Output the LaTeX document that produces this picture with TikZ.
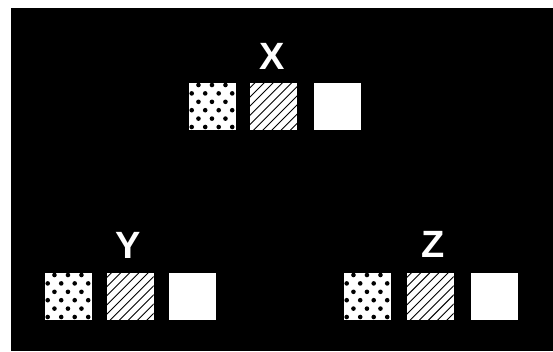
\documentclass[tikz,border=0pt]{standalone}
\usepackage{fontspec}
\setmainfont{Liberation Sans}
\usepackage{tikz}
\usetikzlibrary{positioning,calc}

\begin{document}
\begin{tikzpicture}[
  sq/.style={fill=white,draw=none,minimum width=47pt,minimum height=47pt,inner sep=0pt,outer sep=0pt},
  dotsq/.style={sq,path picture={
    \foreach \r in {0,...,5}
      \foreach \c in {0,...,3}
        \fill[black] ($(path picture bounding box.north west)+({2.7pt+6.75pt*(1-mod(\r,2))+13.5pt*\c},{-2.3pt-8.4pt*\r})$) circle (2.3pt);}},
  hatchsq/.style={sq,path picture={
    \foreach \k in {0,...,10}
      \draw[black,line width=0.9pt] ($(path picture bounding box.north west)+({5pt+9.2pt*\k},0pt)$) -- ++(-60pt,-60pt);}},
  lbl/.style={text=white,inner sep=0pt,font=\fontsize{38}{38}\selectfont\bfseries}]
\useasboundingbox (0,0) rectangle (553pt,-351pt);
\fill[black] (11pt,-8pt) rectangle (553pt,-351pt);
% group X
\node[dotsq,anchor=north west] (xdot) at (189pt,-82.7pt) {};
\node[hatchsq,right=14pt of xdot] (xhatch) {};
\node[sq,right=17pt of xhatch] (xplain) {};
\node[lbl,above=13.4pt of xhatch,xshift=-1pt] (xlbl) {X};
% group Y
\node[dotsq,anchor=north west] (ydot) at (45pt,-272.7pt) {};
\node[hatchsq,right=14.5pt of ydot] (yhatch) {};
\node[sq,right=15.5pt of yhatch] (yplain) {};
\node[lbl,above=14.4pt of yhatch,xshift=-1.5pt] (ylbl) {Y};
% group Z
\node[dotsq,anchor=north west] (zdot) at (344pt,-272.7pt) {};
\node[hatchsq,right=15.5pt of zdot] (zhatch) {};
\node[sq,right=17pt of zhatch] (zplain) {};
\node[lbl,above=15.4pt of zhatch,xshift=3pt] (zlbl) {Z};
\end{tikzpicture}
\end{document}
